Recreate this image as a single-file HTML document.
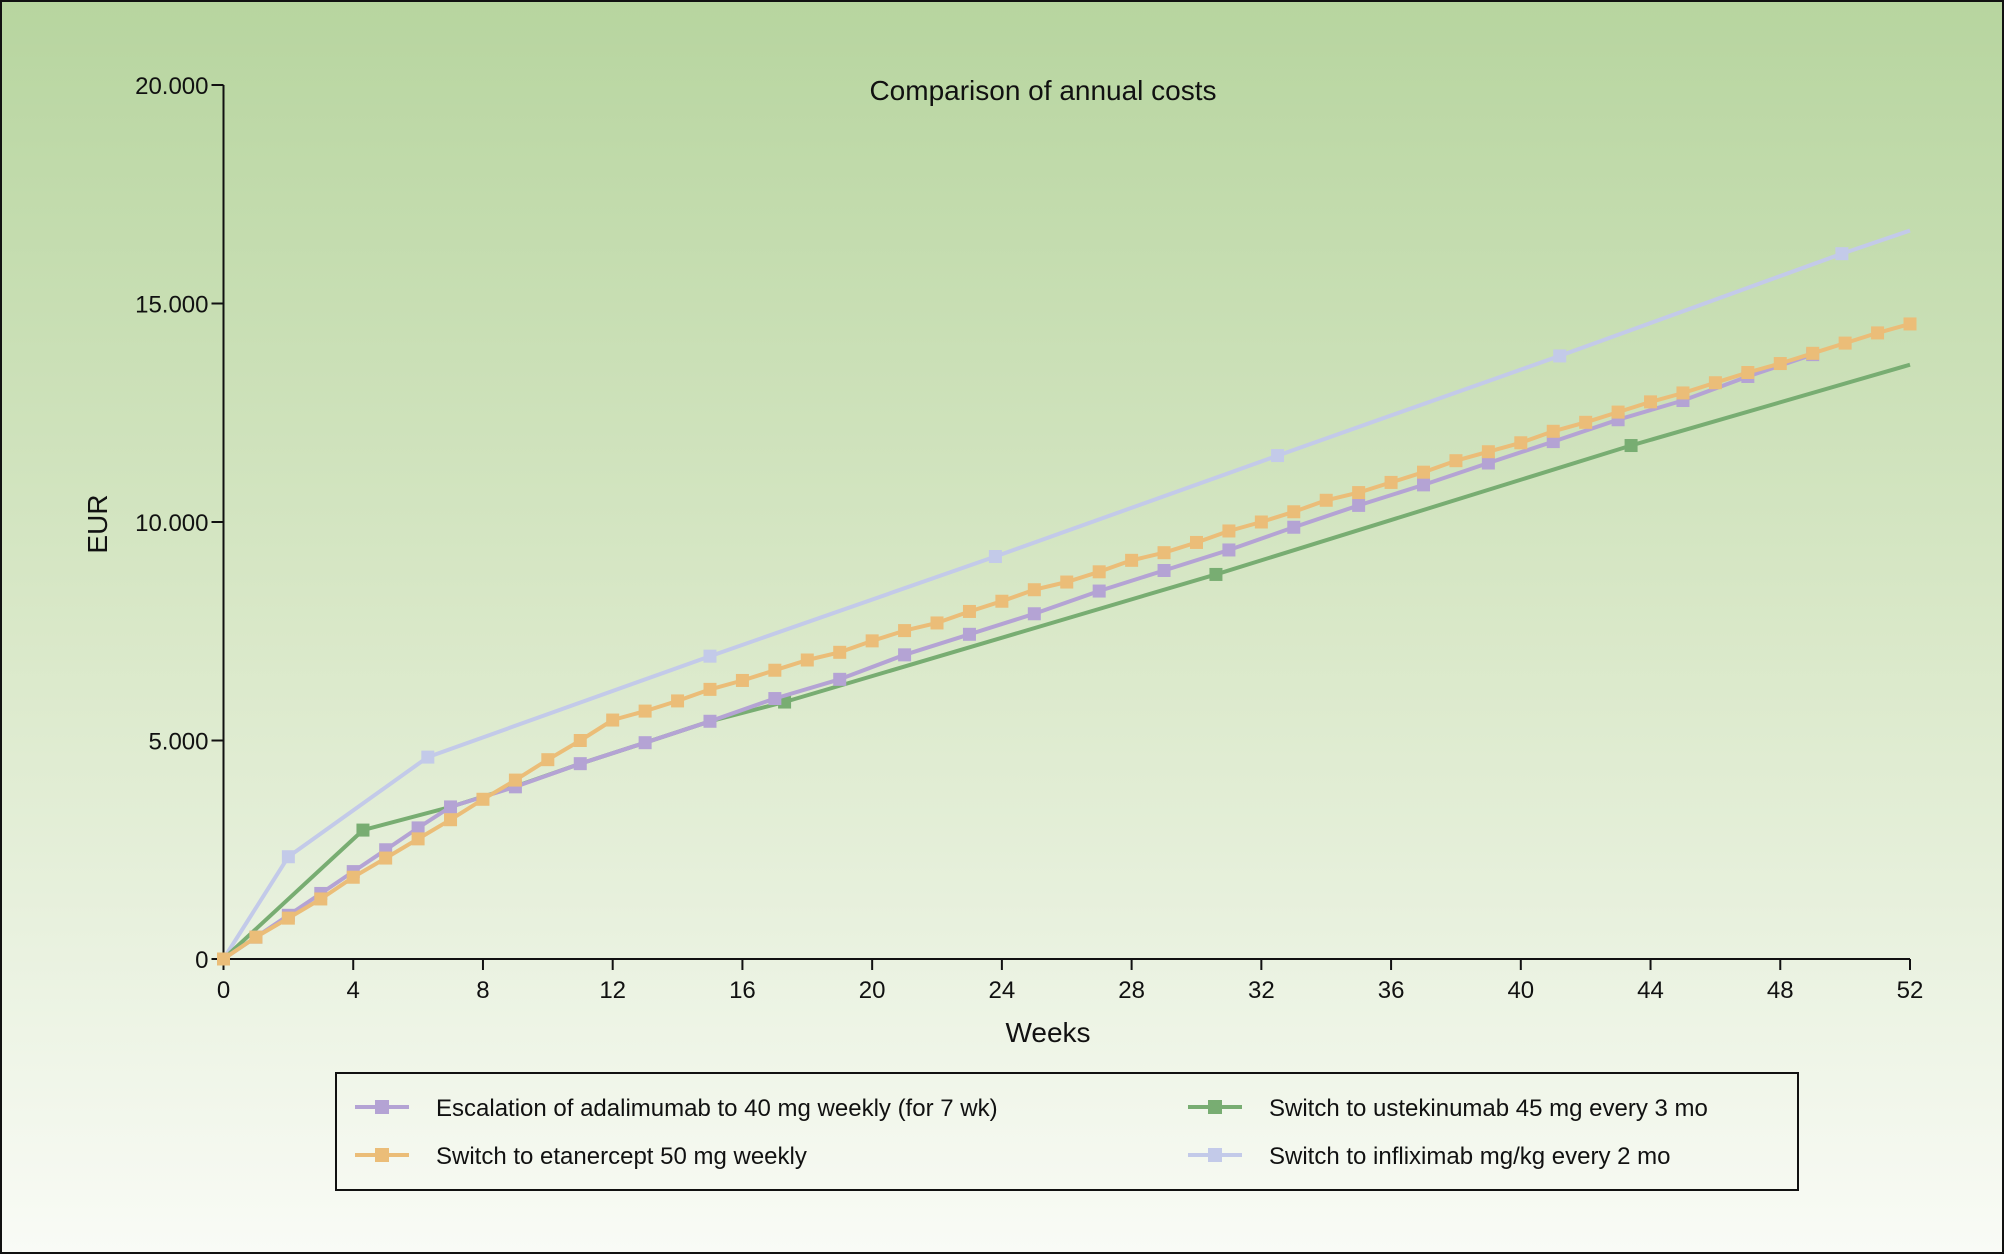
<!DOCTYPE html>
<html><head><meta charset="utf-8">
<style>
html,body{margin:0;padding:0;}
body{width:2004px;height:1254px;overflow:hidden;font-family:"Liberation Sans",sans-serif;}
svg text{font-family:"Liberation Sans",sans-serif;fill:#111;}
</style></head>
<body>
<svg id="chart" width="2004" height="1254" viewBox="0 0 2004 1254" xmlns="http://www.w3.org/2000/svg">
<defs>
<linearGradient id="bg" x1="0" y1="0" x2="0" y2="1">
<stop offset="0" stop-color="#b7d59f"/>
<stop offset="0.5" stop-color="#d9e8c8"/>
<stop offset="1" stop-color="#f9fbf6"/>
</linearGradient>
</defs>
<rect x="1" y="1" width="2002" height="1252" fill="url(#bg)" stroke="#111" stroke-width="2"/>
<text x="1043" y="100" font-size="28" text-anchor="middle">Comparison of annual costs</text>
<text x="0" y="0" font-size="28" text-anchor="middle" transform="translate(107,524) rotate(-90)">EUR</text>
<text x="1048" y="1042" font-size="28" text-anchor="middle">Weeks</text>
<g id="axes"></g>
<g id="series"></g>
<rect x="336" y="1073" width="1462" height="117" fill="none" stroke="#111" stroke-width="2"/>
<g id="legend"></g>
</svg>
<script>
const xTicks=[0,4,8,12,16,20,24,28,32,36,40,44,48,52];
const yTicks=[0,5000,10000,15000,20000];
const yTickLabels=["0","5.000","10.000","15.000","20.000"];
const adaWeeks=[0,1,2,3,4,5,6,7,9,11,13,15,17,19,21,23,25,27,29,31,33,35,37,39,41,43,45,47,49];
const adaValues=[0,500,1000,1500,2000,2500,3000,3480,3940,4470,4950,5440,5960,6400,6960,7430,7900,8420,8890,9360,9880,10380,10850,11350,11840,12340,12780,13330,13830];
const etaWeeks=[0,1,2,3,4,5,6,7,8,9,10,11,12,13,14,15,16,17,18,19,20,21,22,23,24,25,26,27,28,29,30,31,32,33,34,35,36,37,38,39,40,41,42,43,44,45,46,47,48,49,50,51,52];
const etaValues=[0,500,935,1374,1871,2310,2749,3187,3655,4094,4561,5000,5468,5673,5906,6170,6374,6608,6842,7018,7280,7515,7690,7953,8187,8450,8626,8860,9123,9298,9532,9795,10000,10234,10497,10673,10906,11140,11403,11608,11813,12076,12281,12515,12749,12953,13187,13421,13626,13860,14094,14327,14532];
const ustWeeks=[0,4.3,7,9,11,13,15,17.3,30.6,43.4,52];
const ustValues=[0,2950,3480,3950,4470,4950,5440,5880,8800,11750,13600];
const ustMarkers=[1,1,0,0,0,0,0,1,1,1,0];
const infWeeks=[0,2,6.3,15,23.8,32.5,41.2,49.9,52];
const infValues=[0,2340,4620,6930,9210,11520,13800,16140,16670];
const infMarkers=[1,1,1,1,1,1,1,1,0];
const legendLabels=["Escalation of adalimumab to 40 mg weekly (for 7 wk)","Switch to etanercept 50 mg weekly","Switch to ustekinumab 45 mg every 3 mo","Switch to infliximab mg/kg every 2 mo"];

const NS="http://www.w3.org/2000/svg";
const X0=223.5,X1=1910,Y0=959,Y1=85;
function xs(w){return X0+(X1-X0)*w/52;}
function ys(v){return Y0-(Y0-Y1)*v/20000;}
function mk(tag,attrs,parent){const e=document.createElementNS(NS,tag);for(const k in attrs)e.setAttribute(k,attrs[k]);parent.appendChild(e);return e;}
const axes=document.getElementById('axes');
let yl=mk('line',{x1:X0,y1:Y0,x2:X0,y2:Y1,stroke:'#111','stroke-width':2},axes);


let xl=mk('line',{x1:X0,y1:Y0,x2:X1,y2:Y0,stroke:'#111','stroke-width':2},axes);


yTicks.forEach((v,i)=>{
  const y=ys(v);
  const t=mk('line',{x1:X0-12,y1:y,x2:X0,y2:y,stroke:'#111','stroke-width':2},axes);
  
  
  const l=mk('text',{x:X0-15,y:y+9,'font-size':24,'text-anchor':'end'},axes);
  l.textContent=yTickLabels[i];
  
  
});
xTicks.forEach(w=>{
  const x=xs(w);
  const t=mk('line',{x1:x,y1:Y0,x2:x,y2:Y0+11,stroke:'#111','stroke-width':2},axes);
  
  
  const l=mk('text',{x:x,y:Y0+39,'font-size':24,'text-anchor':'middle'},axes);
  l.textContent=String(w);
  
  
});
const series=document.getElementById('series');
function drawSeries(name,weeks,vals,color,markers){
  const g=mk('g',{},series);
  
  
  const pts=weeks.map((w,i)=>xs(w).toFixed(1)+','+ys(vals[i]).toFixed(1)).join(' ');
  const pl=mk('polyline',{points:pts,fill:'none',stroke:color,'stroke-width':4,'stroke-linejoin':'round'},g);
  
  
  weeks.forEach((w,i)=>{
    if(markers && !markers[i])return;
    const r=mk('rect',{x:xs(w)-6.5,y:ys(vals[i])-6.5,width:13,height:13,fill:color},g);
    
    
  });
}
drawSeries('infliximab-series',infWeeks,infValues,'#c3cae9',infMarkers);
drawSeries('ustekinumab-series',ustWeeks,ustValues,'#78ad72',ustMarkers);
drawSeries('adalimumab-series',adaWeeks,adaValues,'#b4a3d4',null);
drawSeries('etanercept-series',etaWeeks,etaValues,'#ebbd78',null);
const legend=document.getElementById('legend');
const legColors=['#b4a3d4','#ebbd78','#78ad72','#c3cae9'];
const legPos=[[355,1107],[355,1155],[1188,1107],[1188,1155]];
legendLabels.forEach((lab,i)=>{
  const [lx,ly]=legPos[i];
  const g=mk('g',{},legend);
  
  
  mk('line',{x1:lx,y1:ly,x2:lx+54,y2:ly,stroke:legColors[i],'stroke-width':4},g);
  mk('rect',{x:lx+20,y:ly-7,width:14,height:14,fill:legColors[i]},g);
  const t=mk('text',{x:lx+81,y:ly+9,'font-size':24},g);
  t.textContent=lab;
});
</script>
</body></html>
